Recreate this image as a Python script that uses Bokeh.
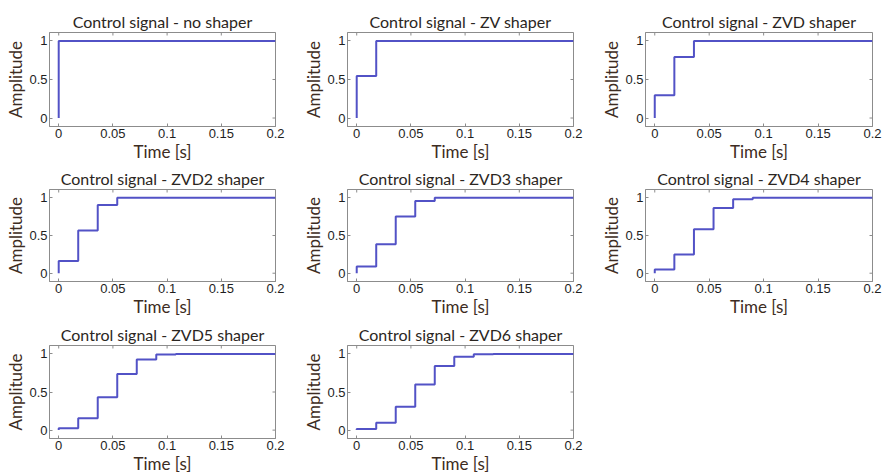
from math import pi

from bokeh.plotting import figure
from bokeh.layouts import column, row
from bokeh.models import Range1d, FixedTicker, Spacer
from bokeh.embed import file_html
from bokeh.resources import INLINE

# Switching instants of the shaped command (s) and the end of the time window
step_times = [0.0, 0.018, 0.036, 0.054, 0.072, 0.090, 0.108, 0.126]
t_end = 0.2

# Cumulative amplitude reached after each impulse of the shaper
levels_none = [1.0]
levels_zv = [0.545, 1.0]
levels_zvd = [0.297, 0.793, 1.0]
levels_zvd2 = [0.162, 0.567, 0.905, 1.0]
levels_zvd3 = [0.088, 0.383, 0.752, 0.957, 1.0]
levels_zvd4 = [0.048, 0.249, 0.584, 0.864, 0.980, 1.0]
levels_zvd5 = [0.026, 0.157, 0.431, 0.736, 0.927, 0.991, 1.0]
levels_zvd6 = [0.014, 0.098, 0.307, 0.598, 0.840, 0.962, 0.996, 1.0]

titles = [
    "Control signal - no shaper",
    "Control signal - ZV shaper",
    "Control signal - ZVD shaper",
    "Control signal - ZVD2 shaper",
    "Control signal - ZVD3 shaper",
    "Control signal - ZVD4 shaper",
    "Control signal - ZVD5 shaper",
    "Control signal - ZVD6 shaper",
]
all_levels = [levels_none, levels_zv, levels_zvd, levels_zvd2,
              levels_zvd3, levels_zvd4, levels_zvd5, levels_zvd6]

x_ticks = [0, 0.05, 0.1, 0.15, 0.2]
x_tick_labels = ["0", "0.05", "0.1", "0.15", "0.2"]
y_ticks = [0, 0.5, 1]
y_tick_labels = ["0", "0.5", "1"]

X_MIN, X_MAX = -0.0085, t_end
Y_MIN, Y_MAX = -0.11, 1.11

LINE = "#5252c6"
FRAME = "#8c8c8c"
TEXT = "#2b2622"
LABEL = "#3d2c22"

# grid geometry: (left border, frame width, right border) per column,
# (top border, frame height, bottom border) per row
col_geom = [(49, 226, 21), (51, 226, 19), (53, 227, 16)]
row_geom = [(32, 94, 38), (24, 92, 38), (26, 93, 38)]


def style_axis(ax, ticks, labels):
    ax.ticker = FixedTicker(ticks=ticks)
    ax.major_label_overrides = {t: s for t, s in zip(ticks, labels)}
    ax.axis_line_color = FRAME
    ax.major_tick_line_color = FRAME
    ax.major_tick_in = 3
    ax.major_tick_out = 0
    ax.minor_tick_line_color = None
    ax.major_label_text_font = "Liberation Sans"
    ax.major_label_text_font_size = "13px"
    ax.major_label_text_color = "#1e1e1e"
    ax.major_label_standoff = 2
    ax.axis_label_text_font = "Lato"
    ax.axis_label_text_font_size = "17px"
    ax.axis_label_text_font_style = "normal"
    ax.axis_label_text_color = LABEL
    ax.axis_label_standoff = 0


def make_panel(title, levels, cg, rg):
    left, fw, right = cg
    top, fh, bottom = rg
    p = figure(
        frame_width=fw, frame_height=fh,
        min_border_left=left, min_border_right=right,
        min_border_top=top, min_border_bottom=bottom,
        x_range=Range1d(X_MIN, X_MAX), y_range=Range1d(Y_MIN, Y_MAX),
        output_backend="svg", toolbar_location=None,
        title=title,
    )
    p.title.align = "center"
    p.title.text_font = "Lato"
    p.title.text_font_size = "16px"
    p.title.text_font_style = "normal"
    p.title.text_color = TEXT
    p.title.standoff = 4

    p.grid.visible = False
    p.outline_line_color = FRAME
    p.background_fill_color = "white"
    p.border_fill_color = "white"

    style_axis(p.xaxis[0], x_ticks, x_tick_labels)
    style_axis(p.yaxis[0], y_ticks, y_tick_labels)
    p.xaxis.axis_label = "Time [s]"
    p.yaxis.axis_label = "Amplitude"

    # inward tick marks mirrored on the top and right edges of the box
    p.scatter(x=x_ticks, y=[Y_MAX] * len(x_ticks), marker="dash", size=6,
              angle=pi / 2, line_color=FRAME, line_width=1)
    p.scatter(x=[X_MAX] * len(y_ticks), y=y_ticks, marker="dash", size=6,
              line_color=FRAME, line_width=1)

    n = len(levels)
    xs = [0.0] + step_times[:n] + [t_end]
    ys = [0.0] + levels + [1.0]
    p.step(xs, ys, mode="after", line_color=LINE, line_width=2)
    return p


panels = []
for i, (title, levels) in enumerate(zip(titles, all_levels)):
    r, c = divmod(i, 3)
    panels.append(make_panel(title, levels, col_geom[c], row_geom[r]))

layout = column(
    row(panels[0], panels[1], panels[2]),
    row(panels[3], panels[4], panels[5]),
    row(panels[6], panels[7], Spacer(width=296, height=157)),
)

open("out.html", "w").write(file_html(layout, INLINE))
